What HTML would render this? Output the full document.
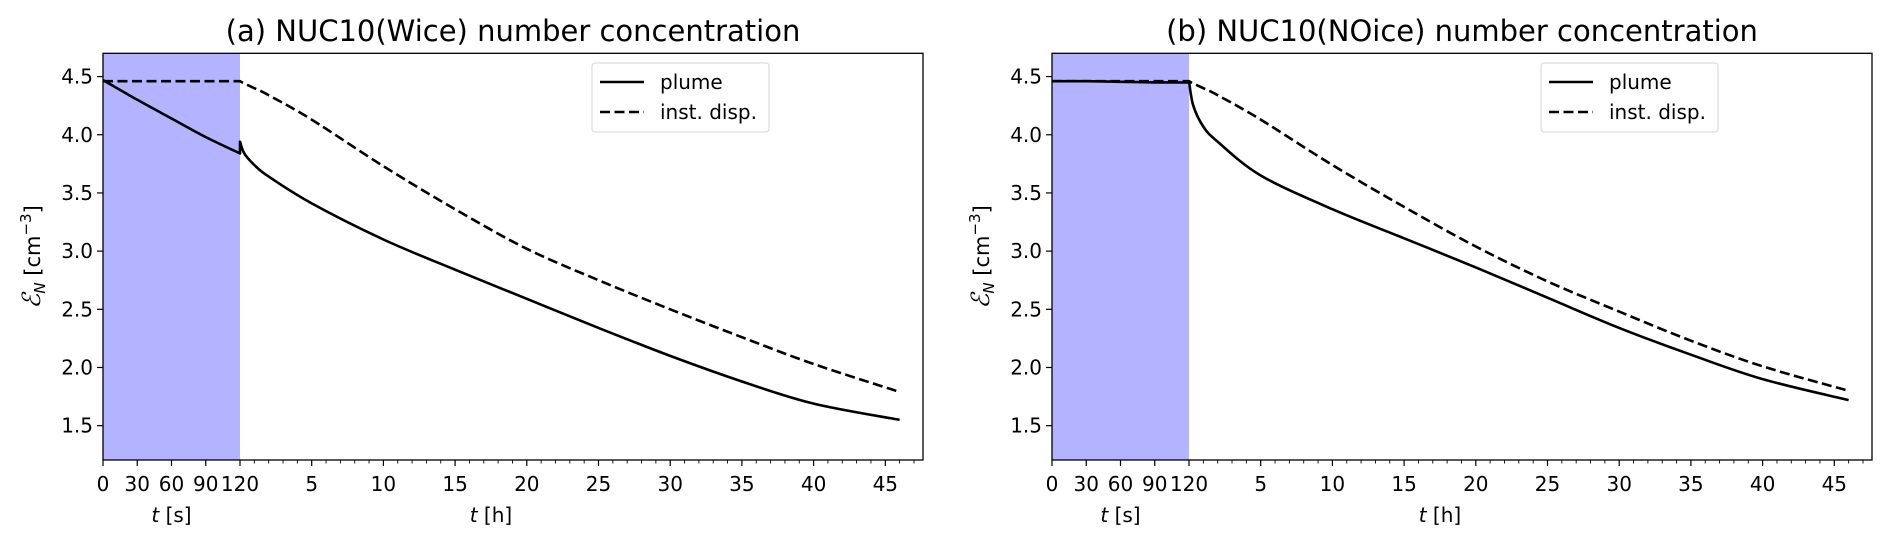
<!DOCTYPE html>
<html><head><meta charset="utf-8"><style>
html,body{margin:0;padding:0;background:#fff;}
svg{display:block;font-family:"DejaVu Sans","Liberation Sans",sans-serif;}
</style></head><body>
<svg id="chart" width="1892" height="545" viewBox="0 0 1892 545" xmlns="http://www.w3.org/2000/svg"></svg>
<script>
const secTicks = [0, 30, 60, 90, 120];
const hourTicks = [5, 10, 15, 20, 25, 30, 35, 40, 45];
const yTicks = [1.5, 2.0, 2.5, 3.0, 3.5, 4.0, 4.5];
const secT = [0, 30, 60, 90, 120];
const aPlumeSec = [4.47, 4.30, 4.14, 3.98, 3.84];
const aDispSec = [4.46, 4.46, 4.46, 4.46, 4.46];
const aHours = [0, 0.3, 1, 2, 5, 10, 15, 20, 25, 30, 35, 40, 46];
const aPlumeH = [3.94, 3.84, 3.74, 3.64, 3.41, 3.10, 2.84, 2.59, 2.34, 2.10, 1.88, 1.69, 1.55];
const aDispH = [4.46, 4.44, 4.40, 4.34, 4.13, 3.73, 3.36, 3.02, 2.75, 2.50, 2.26, 2.03, 1.79];
const bPlumeSec = [4.46, 4.46, 4.455, 4.45, 4.45];
const bDispSec = [4.46, 4.46, 4.46, 4.46, 4.46];
const bHours = [0, 0.3, 1, 2, 5, 10, 15, 20, 25, 30, 35, 40, 46];
const bPlumeH = [4.46, 4.25, 4.07, 3.94, 3.65, 3.36, 3.11, 2.86, 2.60, 2.34, 2.11, 1.90, 1.72];
const bDispH = [4.46, 4.44, 4.40, 4.34, 4.13, 3.74, 3.38, 3.04, 2.74, 2.48, 2.23, 2.01, 1.80];

const NS = 'http://www.w3.org/2000/svg';
const svg = document.getElementById('chart');
function mk(tag, attrs, parent, text){
  const e = document.createElementNS(NS, tag);
  for (const k in attrs) e.setAttribute(k, attrs[k]);
  if (text !== undefined) e.textContent = text;
  (parent || svg).appendChild(e);
  return e;
}
const Y0 = 53.3, Y1 = 460, YMIN = 1.205, YMAX = 4.70;
function yS(v){ return Y1 - (v - YMIN) / (YMAX - YMIN) * (Y1 - Y0); }
function smooth(pts){
  let d = 'M' + pts[0][0].toFixed(1) + ' ' + pts[0][1].toFixed(1);
  for (let i = 0; i < pts.length - 1; i++) {
    const p0 = pts[Math.max(0, i - 1)], p1 = pts[i], p2 = pts[i + 1], p3 = pts[Math.min(pts.length - 1, i + 2)];
    const c1x = p1[0] + (p2[0] - p0[0]) / 6, c1y = p1[1] + (p2[1] - p0[1]) / 6;
    const c2x = p2[0] - (p3[0] - p1[0]) / 6, c2y = p2[1] - (p3[1] - p1[1]) / 6;
    d += ' C' + c1x.toFixed(1) + ' ' + c1y.toFixed(1) + ' ' + c2x.toFixed(1) + ' ' + c2y.toFixed(1) + ' ' + p2[0].toFixed(1) + ' ' + p2[1].toFixed(1);
  }
  return d;
}

function panel(ox, id, title, plumeSec, dispSec, hours, plumeH, dispH){
  const L = ox, R = ox + 820, B = ox + 137;
  const xs = s => L + s / 120 * (B - L);
  const xh = h => B + h * 14.34;
  const g = mk('g', {});
  
  
  const shade = mk('rect', {x: L, y: Y0, width: B - L, height: Y1 - Y0, fill: '#b3b3ff'}, g);
  
  
  const psS = secT.map((s, i) => [xs(s), yS(plumeSec[i])]);
  const psH = hours.map((h, i) => [xh(h), yS(plumeH[i])]);
  const dsS = secT.map((s, i) => [xs(s), yS(dispSec[i])]);
  const dsH = hours.map((h, i) => [xh(h), yS(dispH[i])]);
  const dD = smooth(dsS) + ' L' + dsH[0][0].toFixed(1) + ' ' + dsH[0][1].toFixed(1) + ' ' + smooth(dsH).replace(/^M/, 'L');
  const pD = smooth(psS) + ' L' + psH[0][0].toFixed(1) + ' ' + psH[0][1].toFixed(1) + ' ' + smooth(psH).replace(/^M/, 'L');
  const dl = mk('path', {d: dD, fill: 'none', stroke: '#000', 'stroke-width': 2.6, 'stroke-dasharray': '10 4.5'}, g);
  
  
  const pl = mk('path', {d: pD, fill: 'none', stroke: '#000', 'stroke-width': 2.6, 'stroke-linejoin': 'round'}, g);
  
  
  const fr = mk('rect', {x: L, y: Y0, width: R - L, height: Y1 - Y0, fill: 'none', stroke: '#000', 'stroke-width': 1.3}, g);
  
  
  yTicks.forEach(v => {
    const y = yS(v);
    mk('line', {x1: L - 6, x2: L, y1: y, y2: y, stroke: '#000', 'stroke-width': 1.2}, g);
    const t = mk('text', {x: L - 10, y: y + 7, 'text-anchor': 'end', 'font-size': 20}, g, v.toFixed(1));
    
    
  });
  secTicks.forEach(s => {
    const x = xs(s);
    mk('line', {x1: x, x2: x, y1: Y1, y2: Y1 + 6, stroke: '#000', 'stroke-width': 1.2}, g);
    const t = mk('text', {x: x, y: Y1 + 31, 'text-anchor': 'middle', 'font-size': 20}, g, String(s));
    
    
  });
  for (let h = 1; h <= 47; h++) {
    const x = xh(h);
    if (x > R) break;
    const major = h % 5 === 0;
    mk('line', {x1: x, x2: x, y1: Y1, y2: Y1 + (major ? 6 : 3.5), stroke: '#000', 'stroke-width': major ? 1.2 : 0.9}, g);
  }
  hourTicks.forEach(h => {
    const t = mk('text', {x: xh(h), y: Y1 + 31, 'text-anchor': 'middle', 'font-size': 20}, g, String(h));
    
    
  });
  const xl1 = mk('text', {x: xs(60), y: Y1 + 62, 'text-anchor': 'middle', 'font-size': 20}, g);
  
  
  mk('tspan', {'font-style': 'italic'}, xl1, 't');
  mk('tspan', {}, xl1, ' [s]');
  const xl2 = mk('text', {x: xh(17.5), y: Y1 + 62, 'text-anchor': 'middle', 'font-size': 20}, g);
  
  
  mk('tspan', {'font-style': 'italic'}, xl2, 't');
  mk('tspan', {}, xl2, ' [h]');
  const yl = mk('text', {x: 0, y: 0, 'text-anchor': 'middle', 'font-size': 21, transform: 'translate(' + (L - 63) + ',257) rotate(-90)'}, g);
  
  
  mk('tspan', {'font-style': 'italic', 'font-family': '"Liberation Serif",serif', 'font-size': 25}, yl, 'ℰ');
  mk('tspan', {'font-size': 15, dy: 5, 'font-style': 'italic'}, yl, 'N');
  mk('tspan', {dy: -5}, yl, ' [cm');
  mk('tspan', {'font-size': 15, dy: -9}, yl, '−3');
  mk('tspan', {dy: 9}, yl, ']');
  const tt = mk('text', {x: (L + R) / 2, y: 41, 'text-anchor': 'middle', 'font-size': 29}, g, title);
  
  
  const lg = mk('g', {}, g);
  
  
  const lx = ox + 489, ly = 63;
  mk('rect', {x: lx, y: ly, width: 177, height: 69, rx: 3, fill: '#fff', 'fill-opacity': 0.8, stroke: '#d6d6d6', 'stroke-width': 1}, lg);
  mk('line', {x1: lx + 8, x2: lx + 52, y1: ly + 19, y2: ly + 19, stroke: '#000', 'stroke-width': 2.6}, lg);
  const e1 = mk('text', {x: lx + 68, y: ly + 26, 'font-size': 20}, lg, 'plume');
  
  
  mk('line', {x1: lx + 8, x2: lx + 52, y1: ly + 49, y2: ly + 49, stroke: '#000', 'stroke-width': 2.6, 'stroke-dasharray': '10 4.5'}, lg);
  const e2 = mk('text', {x: lx + 68, y: ly + 56, 'font-size': 20}, lg, 'inst. disp.');
  
  
}
panel(103, 'a', '(a) NUC10(Wice) number concentration', aPlumeSec, aDispSec, aHours, aPlumeH, aDispH);
panel(1052, 'b', '(b) NUC10(NOice) number concentration', bPlumeSec, bDispSec, bHours, bPlumeH, bDispH);
</script>
</body></html>
